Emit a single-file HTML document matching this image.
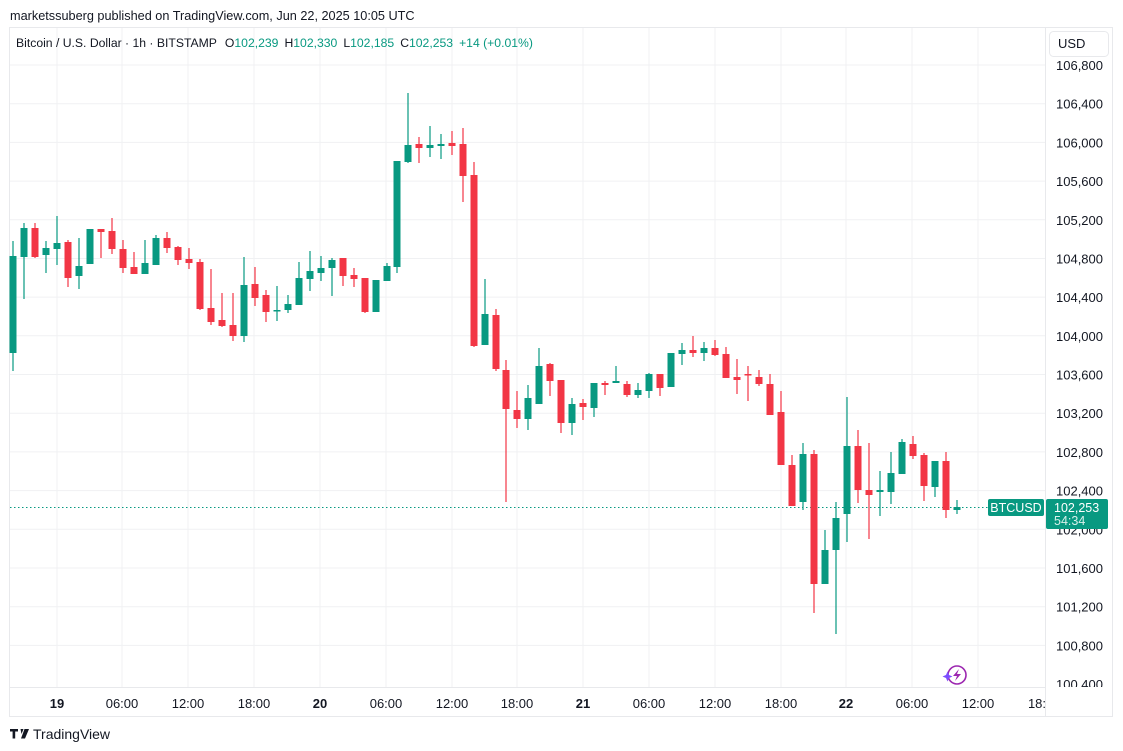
<!DOCTYPE html>
<html><head><meta charset="utf-8"><style>
html,body{margin:0;padding:0;background:#fff;width:1123px;height:751px;overflow:hidden;font-family:"Liberation Sans",sans-serif}
svg{position:absolute;left:0;top:0}
.g line{stroke:#089981;stroke-width:1.2}.g rect{fill:#089981}
.r line{stroke:#f23645;stroke-width:1.2}.r rect{fill:#f23645}
</style></head><body>
<svg width="1123" height="751" viewBox="0 0 1123 751" font-family="Liberation Sans, sans-serif">
<text x="10" y="20" font-size="12.7" fill="#131722">marketssuberg published on TradingView.com, Jun 22, 2025 10:05 UTC</text>
<rect x="9.5" y="27.5" width="1103" height="689" fill="#fff" stroke="#e8e9ec"/>
<g stroke="#f0f1f3" stroke-width="1">
<line x1="10" x2="1045" y1="65" y2="65"/><line x1="10" x2="1045" y1="103.7" y2="103.7"/><line x1="10" x2="1045" y1="142.4" y2="142.4"/><line x1="10" x2="1045" y1="181.1" y2="181.1"/><line x1="10" x2="1045" y1="219.8" y2="219.8"/><line x1="10" x2="1045" y1="258.5" y2="258.5"/><line x1="10" x2="1045" y1="297.1" y2="297.1"/><line x1="10" x2="1045" y1="335.8" y2="335.8"/><line x1="10" x2="1045" y1="374.5" y2="374.5"/><line x1="10" x2="1045" y1="413.2" y2="413.2"/><line x1="10" x2="1045" y1="451.9" y2="451.9"/><line x1="10" x2="1045" y1="490.6" y2="490.6"/><line x1="10" x2="1045" y1="529.3" y2="529.3"/><line x1="10" x2="1045" y1="568" y2="568"/><line x1="10" x2="1045" y1="606.7" y2="606.7"/><line x1="10" x2="1045" y1="645.4" y2="645.4"/>
<line y1="28" y2="687" x1="57" x2="57"/><line y1="28" y2="687" x1="122" x2="122"/><line y1="28" y2="687" x1="188" x2="188"/><line y1="28" y2="687" x1="254" x2="254"/><line y1="28" y2="687" x1="320" x2="320"/><line y1="28" y2="687" x1="386" x2="386"/><line y1="28" y2="687" x1="452" x2="452"/><line y1="28" y2="687" x1="517" x2="517"/><line y1="28" y2="687" x1="583" x2="583"/><line y1="28" y2="687" x1="649" x2="649"/><line y1="28" y2="687" x1="715" x2="715"/><line y1="28" y2="687" x1="781" x2="781"/><line y1="28" y2="687" x1="846" x2="846"/><line y1="28" y2="687" x1="912" x2="912"/><line y1="28" y2="687" x1="978" x2="978"/>
</g>
<line x1="1045.5" x2="1045.5" y1="28" y2="716" stroke="#e8e9ec"/>
<line x1="10" x2="1045" y1="687.5" y2="687.5" stroke="#e8e9ec"/>
<text x="16" y="47" font-size="12.2" fill="#131722">Bitcoin / U.S. Dollar · 1h · BITSTAMP<tspan dx="8">O</tspan><tspan fill="#089981">102,239</tspan><tspan dx="6">H</tspan><tspan fill="#089981">102,330</tspan><tspan dx="6">L</tspan><tspan fill="#089981">102,185</tspan><tspan dx="6">C</tspan><tspan fill="#089981">102,253</tspan><tspan dx="6" fill="#089981">+14 (+0.01%)</tspan></text>
<rect x="1049.5" y="31.5" width="59" height="25" rx="4" fill="#fff" stroke="#e8e9ec"/>
<text x="1058" y="48" font-size="13" fill="#131722">USD</text>
<g font-size="13" fill="#131722" text-anchor="end">
<text x="1103" y="70">106,800</text><text x="1103" y="108.7">106,400</text><text x="1103" y="147.4">106,000</text><text x="1103" y="186.1">105,600</text><text x="1103" y="224.8">105,200</text><text x="1103" y="263.5">104,800</text><text x="1103" y="302.1">104,400</text><text x="1103" y="340.8">104,000</text><text x="1103" y="379.5">103,600</text><text x="1103" y="418.2">103,200</text><text x="1103" y="456.9">102,800</text><text x="1103" y="495.6">102,400</text><text x="1103" y="534.3">102,000</text><text x="1103" y="573">101,600</text><text x="1103" y="611.7">101,200</text><text x="1103" y="650.4">100,800</text><text x="1103" y="689">100,400</text>
</g>
<rect x="1046" y="687" width="66" height="29" fill="#fff"/>
<g font-size="13" fill="#131722" text-anchor="middle">
<text x="57" y="708" font-weight="bold">19</text><text x="122" y="708">06:00</text><text x="188" y="708">12:00</text><text x="254" y="708">18:00</text><text x="320" y="708" font-weight="bold">20</text><text x="386" y="708">06:00</text><text x="452" y="708">12:00</text><text x="517" y="708">18:00</text><text x="583" y="708" font-weight="bold">21</text><text x="649" y="708">06:00</text><text x="715" y="708">12:00</text><text x="781" y="708">18:00</text><text x="846" y="708" font-weight="bold">22</text><text x="912" y="708">06:00</text><text x="978" y="708">12:00</text><text x="1037" y="708">18:</text>
</g>
<line x1="10" x2="1045" y1="507.5" y2="507.5" stroke="#089981" stroke-dasharray="1.5,2.5"/>
<g class="g"><line x1="13" x2="13" y1="241" y2="371"/><rect x="9.5" y="256" width="7" height="97"/></g>
<g class="g"><line x1="24" x2="24" y1="223" y2="299"/><rect x="20.5" y="228" width="7" height="29"/></g>
<g class="r"><line x1="35" x2="35" y1="223" y2="258"/><rect x="31.5" y="228" width="7" height="29"/></g>
<g class="g"><line x1="46" x2="46" y1="241" y2="273"/><rect x="42.5" y="248" width="7" height="7"/></g>
<g class="g"><line x1="57" x2="57" y1="216" y2="265"/><rect x="53.5" y="243" width="7" height="6"/></g>
<g class="r"><line x1="68" x2="68" y1="240" y2="287"/><rect x="64.5" y="242" width="7" height="36"/></g>
<g class="g"><line x1="79" x2="79" y1="238" y2="289"/><rect x="75.5" y="266" width="7" height="10"/></g>
<g class="g"><line x1="90" x2="90" y1="229" y2="264"/><rect x="86.5" y="229" width="7" height="35"/></g>
<g class="r"><line x1="101" x2="101" y1="229" y2="258"/><rect x="97.5" y="229" width="7" height="3"/></g>
<g class="r"><line x1="112" x2="112" y1="218" y2="254"/><rect x="108.5" y="231" width="7" height="18"/></g>
<g class="r"><line x1="123" x2="123" y1="240" y2="273"/><rect x="119.5" y="249" width="7" height="19"/></g>
<g class="r"><line x1="134" x2="134" y1="252" y2="274"/><rect x="130.5" y="267" width="7" height="7"/></g>
<g class="g"><line x1="145" x2="145" y1="240" y2="274"/><rect x="141.5" y="263" width="7" height="11"/></g>
<g class="g"><line x1="156" x2="156" y1="235" y2="265"/><rect x="152.5" y="238" width="7" height="27"/></g>
<g class="r"><line x1="167" x2="167" y1="232" y2="253"/><rect x="163.5" y="238" width="7" height="10"/></g>
<g class="r"><line x1="178" x2="178" y1="246" y2="265"/><rect x="174.5" y="247" width="7" height="13"/></g>
<g class="r"><line x1="189" x2="189" y1="248" y2="269"/><rect x="185.5" y="259" width="7" height="4"/></g>
<g class="r"><line x1="200" x2="200" y1="259" y2="310"/><rect x="196.5" y="262" width="7" height="47"/></g>
<g class="r"><line x1="211" x2="211" y1="269" y2="325"/><rect x="207.5" y="308" width="7" height="14"/></g>
<g class="r"><line x1="222" x2="222" y1="293" y2="327"/><rect x="218.5" y="320" width="7" height="6"/></g>
<g class="r"><line x1="233" x2="233" y1="293" y2="341"/><rect x="229.5" y="325" width="7" height="11"/></g>
<g class="g"><line x1="244" x2="244" y1="257" y2="342"/><rect x="240.5" y="285" width="7" height="51"/></g>
<g class="r"><line x1="255" x2="255" y1="267" y2="306"/><rect x="251.5" y="284" width="7" height="14"/></g>
<g class="r"><line x1="266" x2="266" y1="290" y2="322"/><rect x="262.5" y="295" width="7" height="17"/></g>
<g class="g"><line x1="277" x2="277" y1="286" y2="321"/><rect x="273.5" y="310" width="7" height="1.5"/></g>
<g class="g"><line x1="288" x2="288" y1="295" y2="313"/><rect x="284.5" y="304" width="7" height="6"/></g>
<g class="g"><line x1="299" x2="299" y1="262" y2="305"/><rect x="295.5" y="278" width="7" height="27"/></g>
<g class="g"><line x1="310" x2="310" y1="251" y2="291"/><rect x="306.5" y="271" width="7" height="8"/></g>
<g class="g"><line x1="321" x2="321" y1="256" y2="281"/><rect x="317.5" y="268" width="7" height="5"/></g>
<g class="g"><line x1="332" x2="332" y1="258" y2="296"/><rect x="328.5" y="260" width="7" height="8"/></g>
<g class="r"><line x1="343" x2="343" y1="258" y2="286"/><rect x="339.5" y="258" width="7" height="18"/></g>
<g class="r"><line x1="354" x2="354" y1="268" y2="287"/><rect x="350.5" y="275" width="7" height="4"/></g>
<g class="r"><line x1="365" x2="365" y1="278" y2="313"/><rect x="361.5" y="278" width="7" height="34"/></g>
<g class="g"><line x1="376" x2="376" y1="280" y2="312"/><rect x="372.5" y="280" width="7" height="32"/></g>
<g class="g"><line x1="387" x2="387" y1="263" y2="281"/><rect x="383.5" y="266" width="7" height="15"/></g>
<g class="g"><line x1="397" x2="397" y1="161" y2="273"/><rect x="393.5" y="161" width="7" height="106"/></g>
<g class="g"><line x1="408" x2="408" y1="93" y2="163"/><rect x="404.5" y="145" width="7" height="17"/></g>
<g class="r"><line x1="419" x2="419" y1="137" y2="163"/><rect x="415.5" y="144" width="7" height="4"/></g>
<g class="g"><line x1="430" x2="430" y1="126" y2="157"/><rect x="426.5" y="145" width="7" height="3"/></g>
<g class="g"><line x1="441" x2="441" y1="134" y2="159"/><rect x="437.5" y="144" width="7" height="2"/></g>
<g class="r"><line x1="452" x2="452" y1="131" y2="155"/><rect x="448.5" y="143" width="7" height="3"/></g>
<g class="r"><line x1="463" x2="463" y1="128" y2="202"/><rect x="459.5" y="144" width="7" height="32"/></g>
<g class="r"><line x1="474" x2="474" y1="162" y2="347"/><rect x="470.5" y="175" width="7" height="171"/></g>
<g class="g"><line x1="485" x2="485" y1="279" y2="345"/><rect x="481.5" y="314" width="7" height="31"/></g>
<g class="r"><line x1="496" x2="496" y1="309" y2="371"/><rect x="492.5" y="315" width="7" height="54"/></g>
<g class="r"><line x1="506" x2="506" y1="360" y2="502"/><rect x="502.5" y="370" width="7" height="39"/></g>
<g class="r"><line x1="517" x2="517" y1="391" y2="428"/><rect x="513.5" y="410" width="7" height="9"/></g>
<g class="g"><line x1="528" x2="528" y1="385" y2="430"/><rect x="524.5" y="398" width="7" height="21"/></g>
<g class="g"><line x1="539" x2="539" y1="348" y2="404"/><rect x="535.5" y="366" width="7" height="38"/></g>
<g class="r"><line x1="550" x2="550" y1="363" y2="396"/><rect x="546.5" y="364" width="7" height="17"/></g>
<g class="r"><line x1="561" x2="561" y1="380" y2="433"/><rect x="557.5" y="380" width="7" height="43"/></g>
<g class="g"><line x1="572" x2="572" y1="398" y2="435"/><rect x="568.5" y="404" width="7" height="19"/></g>
<g class="r"><line x1="583" x2="583" y1="399" y2="420"/><rect x="579.5" y="403" width="7" height="4"/></g>
<g class="g"><line x1="594" x2="594" y1="383" y2="417"/><rect x="590.5" y="383" width="7" height="25"/></g>
<g class="r"><line x1="605" x2="605" y1="381" y2="395"/><rect x="601.5" y="383" width="7" height="2"/></g>
<g class="g"><line x1="616" x2="616" y1="366" y2="383"/><rect x="612.5" y="381" width="7" height="2"/></g>
<g class="r"><line x1="627" x2="627" y1="381" y2="397"/><rect x="623.5" y="384" width="7" height="11"/></g>
<g class="g"><line x1="638" x2="638" y1="383" y2="398"/><rect x="634.5" y="390" width="7" height="5"/></g>
<g class="g"><line x1="649" x2="649" y1="373" y2="398"/><rect x="645.5" y="374" width="7" height="17"/></g>
<g class="r"><line x1="660" x2="660" y1="374" y2="396"/><rect x="656.5" y="374" width="7" height="14"/></g>
<g class="g"><line x1="671" x2="671" y1="353" y2="387"/><rect x="667.5" y="353" width="7" height="34"/></g>
<g class="g"><line x1="682" x2="682" y1="343" y2="365"/><rect x="678.5" y="350" width="7" height="4"/></g>
<g class="r"><line x1="693" x2="693" y1="336" y2="357"/><rect x="689.5" y="350" width="7" height="3"/></g>
<g class="g"><line x1="704" x2="704" y1="342" y2="361"/><rect x="700.5" y="348" width="7" height="5"/></g>
<g class="r"><line x1="715" x2="715" y1="340" y2="356"/><rect x="711.5" y="348" width="7" height="7"/></g>
<g class="r"><line x1="726" x2="726" y1="347" y2="378"/><rect x="722.5" y="354" width="7" height="24"/></g>
<g class="r"><line x1="737" x2="737" y1="359" y2="394"/><rect x="733.5" y="377" width="7" height="3"/></g>
<g class="r"><line x1="748" x2="748" y1="366" y2="401"/><rect x="744.5" y="374" width="7" height="1.5"/></g>
<g class="r"><line x1="759" x2="759" y1="370" y2="386"/><rect x="755.5" y="377" width="7" height="7"/></g>
<g class="r"><line x1="770" x2="770" y1="374" y2="415"/><rect x="766.5" y="384" width="7" height="31"/></g>
<g class="r"><line x1="781" x2="781" y1="391" y2="465"/><rect x="777.5" y="412" width="7" height="53"/></g>
<g class="r"><line x1="792" x2="792" y1="455" y2="506"/><rect x="788.5" y="465" width="7" height="41"/></g>
<g class="g"><line x1="803" x2="803" y1="443" y2="510"/><rect x="799.5" y="454" width="7" height="48"/></g>
<g class="r"><line x1="814" x2="814" y1="450" y2="613"/><rect x="810.5" y="454" width="7" height="130"/></g>
<g class="g"><line x1="825" x2="825" y1="530" y2="584"/><rect x="821.5" y="550" width="7" height="34"/></g>
<g class="g"><line x1="836" x2="836" y1="502" y2="634"/><rect x="832.5" y="518" width="7" height="32"/></g>
<g class="g"><line x1="847" x2="847" y1="397" y2="542"/><rect x="843.5" y="446" width="7" height="68"/></g>
<g class="r"><line x1="858" x2="858" y1="430" y2="503"/><rect x="854.5" y="446" width="7" height="44"/></g>
<g class="r"><line x1="869" x2="869" y1="443" y2="539"/><rect x="865.5" y="490" width="7" height="5"/></g>
<g class="g"><line x1="880" x2="880" y1="471" y2="516"/><rect x="876.5" y="490" width="7" height="2"/></g>
<g class="g"><line x1="891" x2="891" y1="452" y2="504"/><rect x="887.5" y="473" width="7" height="19"/></g>
<g class="g"><line x1="902" x2="902" y1="439" y2="474"/><rect x="898.5" y="442" width="7" height="32"/></g>
<g class="r"><line x1="913" x2="913" y1="436" y2="459"/><rect x="909.5" y="444" width="7" height="12"/></g>
<g class="r"><line x1="924" x2="924" y1="453" y2="501"/><rect x="920.5" y="455" width="7" height="31"/></g>
<g class="g"><line x1="935" x2="935" y1="461" y2="497"/><rect x="931.5" y="461" width="7" height="26"/></g>
<g class="r"><line x1="946" x2="946" y1="452" y2="518"/><rect x="942.5" y="461" width="7" height="49"/></g>
<g class="g"><line x1="957" x2="957" y1="500" y2="514"/><rect x="953.5" y="507" width="7" height="3"/></g>
<rect x="988" y="499" width="56" height="17" rx="2" fill="#089981"/>
<text x="1016" y="512" font-size="12.5" fill="#fff" text-anchor="middle">BTCUSD</text>
<rect x="1046" y="499" width="62" height="30" rx="2" fill="#089981"/>
<text x="1054" y="512" font-size="12.5" fill="#fff">102,253</text>
<text x="1054" y="525" font-size="12.5" fill="#d8f0ea">54:34</text>
<circle cx="957" cy="675" r="9" fill="none" stroke="#9c27b0" stroke-width="1.6"/>
<path d="M959 669 L953 676 L957 676 L955 681 L961 674 L957 674 Z" fill="#9c27b0"/>
<path d="M946 675 l1.5 -3.5 l1.5 3.5 l3.5 1.5 l-3.5 1.5 l-1.5 3.5 l-1.5 -3.5 l-3.5 -1.5 Z" fill="#7c4dff"/>
<path d="M10 729 h8 v2.5 h-2.8 v7 h-2.6 v-7 h-2.6 Z M20.5 729 h3 l-2 5 Z M24.5 729 h4.5 l-4 9.5 h-4 Z" fill="#131722"/>
<text x="33" y="739" font-size="14" fill="#131722">TradingView</text>
</svg>
</body></html>
